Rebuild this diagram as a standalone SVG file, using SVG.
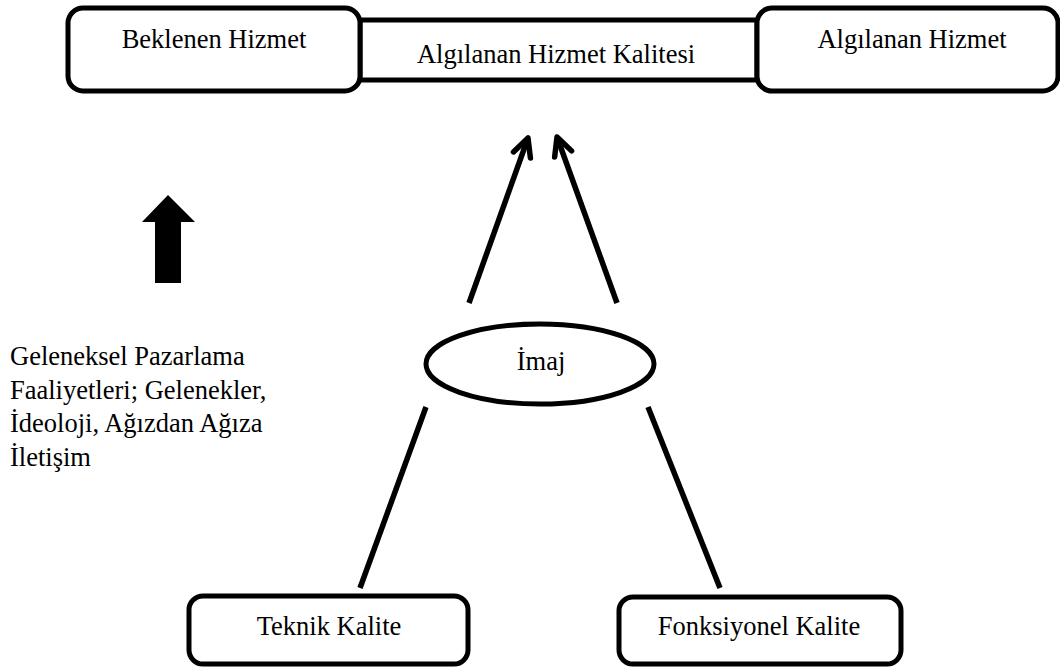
<svg xmlns="http://www.w3.org/2000/svg" width="1060" height="668" viewBox="0 0 1060 668">
  <style>
    .box { fill: #ffffff; stroke: #000000; stroke-width: 5; }
    .lbl { font-family: "Liberation Serif", "Times New Roman", serif; font-size: 26.5px; fill: #000000; }
    .mid { text-anchor: middle; }
    .conn { stroke: #000000; stroke-width: 5.5; fill: none; stroke-linecap: butt; }
  </style>
  <defs>
    <marker id="openArrow" markerUnits="userSpaceOnUse" orient="auto" refX="0" refY="0" markerWidth="40" markerHeight="40" viewBox="-30 -20 40 40" overflow="visible">
      <path d="M -18 -9 L 0 0 L -18 9" fill="none" stroke="#000000" stroke-width="5.5" stroke-linecap="round" stroke-linejoin="round"/>
    </marker>
  </defs>
  <rect width="1060" height="668" fill="#ffffff"/>

  <g id="algilanan-hizmet-kalitesi">
    <rect class="box" x="360" y="20" width="397" height="60"/>
    <text class="lbl mid" x="556" y="63">Algılanan Hizmet Kalitesi</text>
  </g>
  <g id="beklenen-hizmet">
    <rect class="box" x="68" y="8" width="292" height="83" rx="15" ry="15"/>
    <text class="lbl mid" x="214" y="48">Beklenen Hizmet</text>
  </g>
  <g id="algilanan-hizmet">
    <rect class="box" x="757" y="8" width="301" height="83" rx="15" ry="15"/>
    <text class="lbl mid" x="912" y="48">Algılanan Hizmet</text>
  </g>

  <g id="imaj">
    <ellipse class="box" cx="540" cy="364" rx="114" ry="40"/>
    <text class="lbl mid" x="541" y="370">İmaj</text>
  </g>

  <g id="teknik-kalite">
    <rect class="box" x="189" y="596" width="279" height="68" rx="14" ry="14"/>
    <text class="lbl mid" x="329" y="635">Teknik Kalite</text>
  </g>
  <g id="fonksiyonel-kalite">
    <rect class="box" x="619" y="597" width="282" height="67" rx="14" ry="14"/>
    <text class="lbl mid" x="759" y="635">Fonksiyonel Kalite</text>
  </g>

  <g id="geleneksel-pazarlama">
    <polygon points="168,195 195,222 181,222 181,283 155,283 155,222 142,222" fill="#000000"/>
    <text class="lbl" x="10" y="365">Geleneksel Pazarlama</text>
    <text class="lbl" x="10" y="398.5">Faaliyetleri; Gelenekler,</text>
    <text class="lbl" x="10" y="432">İdeoloji, Ağızdan Ağıza</text>
    <text class="lbl" x="10" y="465.5">İletişim</text>
  </g>

  <g id="connectors">
    <line class="conn" x1="469" y1="303" x2="528" y2="138" marker-end="url(#openArrow)"/>
    <line class="conn" x1="617" y1="303" x2="557" y2="137" marker-end="url(#openArrow)"/>
    <line class="conn" x1="426" y1="407" x2="360" y2="588"/>
    <line class="conn" x1="648" y1="407" x2="720" y2="588"/>
  </g>
</svg>
